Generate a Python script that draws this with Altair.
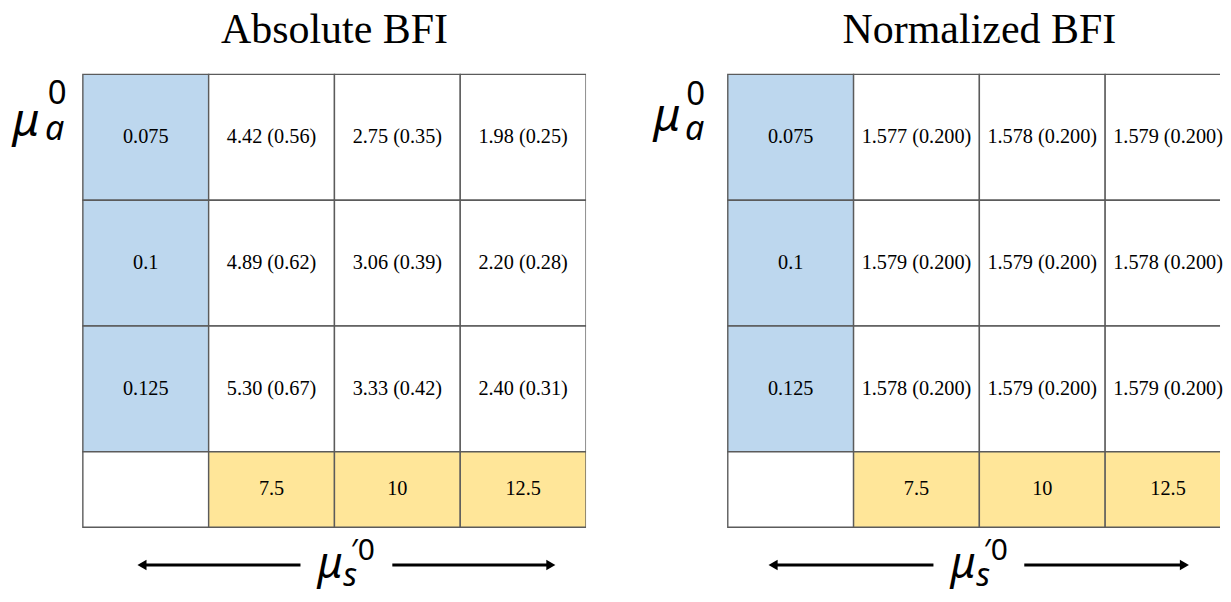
import altair as alt
import pandas as pd

# ---------------- data ----------------
titles = ["Absolute BFI", "Normalized BFI"]
mua_labels = ["0.075", "0.1", "0.125"]
mus_labels = ["7.5", "10", "12.5"]
abs_mean = [[4.42, 2.75, 1.98], [4.89, 3.06, 2.20], [5.30, 3.33, 2.40]]
abs_sd = [[0.56, 0.35, 0.25], [0.62, 0.39, 0.28], [0.67, 0.42, 0.31]]
norm_mean = [[1.577, 1.578, 1.579], [1.579, 1.579, 1.578], [1.578, 1.579, 1.579]]
norm_sd = [[0.200, 0.200, 0.200], [0.200, 0.200, 0.200], [0.200, 0.200, 0.200]]

# ---------------- layout (grid units, 1 unit = one cell) ----------------
PX = 126.0
HEADER_H = 0.6
X0 = -0.595
Y0 = -0.524
Y1 = 4.127
BLUE = "#BDD7EE"
YELLOW = "#FFE699"
BORDER = "#5b5b5b"


def make_cells(mean, sd, dec):
    rows = []
    for r in range(3):
        rows.append(dict(x0=0, x1=1, y0=r, y1=r + 1, kind="mua", label=mua_labels[r]))
        for c in range(3):
            rows.append(dict(x0=c + 1, x1=c + 2, y0=r, y1=r + 1, kind="val",
                             label=f"{mean[r][c]:.{dec}f} ({sd[r][c]:.{dec}f})"))
    rows.append(dict(x0=0, x1=1, y0=3, y1=3 + HEADER_H, kind="blank", label=""))
    for c in range(3):
        rows.append(dict(x0=c + 1, x1=c + 2, y0=3, y1=3 + HEADER_H, kind="mus", label=mus_labels[c]))
    df = pd.DataFrame(rows)
    df["xc"] = (df.x0 + df.x1) / 2
    df["yc"] = (df.y0 + df.y1) / 2
    return df


def panel(df, title, xmax, ann):
    width = round((xmax - X0) * PX)
    height = round((Y1 - Y0) * PX)
    xs = alt.Scale(domain=[X0, xmax], nice=False, zero=False)
    ys = alt.Scale(domain=[Y0, Y1], reverse=True, nice=False, zero=False)

    rect = alt.Chart(df).mark_rect(stroke=BORDER, strokeWidth=1.4, clip=True).encode(
        x=alt.X("x0:Q", scale=xs, axis=None), x2="x1",
        y=alt.Y("y0:Q", scale=ys, axis=None), y2="y1",
        fill=alt.Fill("kind:N", legend=None,
                      scale=alt.Scale(domain=["mua", "val", "blank", "mus"],
                                      range=[BLUE, "white", "white", YELLOW])),
    )
    txt = alt.Chart(df).mark_text(font="Liberation Serif", fontSize=20.3, color="black",
                                  baseline="middle").encode(
        x=alt.X("xc:Q", scale=xs), y=alt.Y("yc:Q", scale=ys), text="label:N")

    ttl = alt.Chart(pd.DataFrame([dict(x=2, y=Y0 + 0.01, t=title)])).mark_text(
        font="Liberation Serif", fontSize=42, color="black", baseline="top").encode(
        x=alt.X("x:Q", scale=xs), y=alt.Y("y:Q", scale=ys), text="t:N")

    # math labels: italic and upright glyphs
    ital = pd.DataFrame(ann["ital"], columns=["x", "y", "t", "fs"])
    upr = pd.DataFrame(ann["upr"], columns=["x", "y", "t", "fs"])
    m_it = alt.Chart(ital).mark_text(font="Noto Sans", fontStyle="italic", align="left",
                                     baseline="alphabetic", color="black").encode(
        x=alt.X("x:Q", scale=xs), y=alt.Y("y:Q", scale=ys), text="t:N",
        size=alt.Size("fs:Q", scale=None))
    m_up = alt.Chart(upr).mark_text(font="Noto Sans", align="left",
                                    baseline="alphabetic", color="black").encode(
        x=alt.X("x:Q", scale=xs), y=alt.Y("y:Q", scale=ys), text="t:N",
        size=alt.Size("fs:Q", scale=None))

    arr = pd.DataFrame(ann["arrows"], columns=["xa", "xb", "y", "tip", "shape"])
    lines = alt.Chart(arr).mark_rule(color="black", strokeWidth=3).encode(
        x=alt.X("xa:Q", scale=xs), x2="xb", y=alt.Y("y:Q", scale=ys))
    heads = alt.Chart(arr).mark_point(filled=True, color="black", opacity=1, size=110).encode(
        x=alt.X("tip:Q", scale=xs), y=alt.Y("y:Q", scale=ys),
        shape=alt.Shape("shape:N", scale=None))

    return alt.layer(rect, txt, ttl, m_it, m_up, lines, heads).properties(
        width=width, height=height)


ann_left = dict(
    ital=[(-0.56, 0.49, "μ", 46), (-0.30, 0.52, "a", 34), (1.865, 4.0, "μ", 43), (2.07, 4.071, "s", 32)],
    upr=[(-0.28, 0.235, "0", 33), (2.13, 3.86, "′0", 30)],
    arrows=[(0.50, 1.73, 3.90, 0.47, "triangle-left"), (2.46, 3.70, 3.90, 3.72, "triangle-right")],
)
ann_right = dict(
    ital=[(-0.59, 0.45, "μ", 46), (-0.34, 0.52, "a", 34), (1.77, 4.0, "μ", 43), (1.975, 4.071, "s", 32)],
    upr=[(-0.33, 0.245, "0", 33), (2.035, 3.86, "′0", 30)],
    arrows=[(0.38, 1.635, 3.90, 0.36, "triangle-left"), (2.357, 3.61, 3.90, 3.63, "triangle-right")],
)

left = panel(make_cells(abs_mean, abs_sd, 2), titles[0], 4.0, ann_left)
right = panel(make_cells(norm_mean, norm_sd, 3), titles[1], 3.913, ann_right)

chart = alt.hconcat(left, right, spacing=67).properties(
    padding={"left": 0, "top": 0, "right": 0, "bottom": 0},
    background="white",
).configure_view(stroke=None)

chart.save("out.html", embed_options={"renderer": "svg", "actions": False})
